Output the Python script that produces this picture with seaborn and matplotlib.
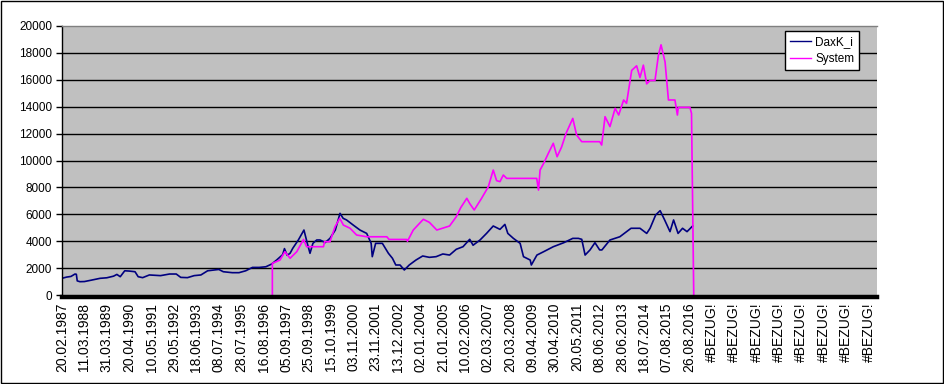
import numpy as np
import pandas as pd
import matplotlib
matplotlib.use("Agg")
import matplotlib.pyplot as plt
import seaborn as sns
from matplotlib.patches import Rectangle

# Category labels on the x axis (Excel shows one label every ~260 rows)
date_labels = [
    "20.02.1987", "11.03.1988", "31.03.1989", "20.04.1990", "10.05.1991",
    "29.05.1992", "18.06.1993", "08.07.1994", "28.07.1995", "16.08.1996",
    "05.09.1997", "25.09.1998", "15.10.1999", "03.11.2000", "23.11.2001",
    "13.12.2002", "02.01.2004", "21.01.2005", "10.02.2006", "02.03.2007",
    "20.03.2008", "09.04.2009", "30.04.2010", "20.05.2011", "08.06.2012",
    "28.06.2013", "18.07.2014", "07.08.2015", "26.08.2016",
]
broken_labels = ["#BEZUG!"] * 8
tick_labels = date_labels + broken_labels

# DaxK_i: position in label units, value
dax_t = [
    0.0, 0.2, 0.4, 0.58, 0.64, 0.68, 0.8, 1.0, 1.3, 1.7, 2.0, 2.3, 2.45, 2.6,
    2.8, 3.0, 3.26, 3.4, 3.6, 3.9, 4.4, 4.8, 5.1, 5.3, 5.6, 5.9, 6.2, 6.5,
    6.8, 7.0, 7.2, 7.6, 7.9, 8.2, 8.5, 8.8, 9.1, 9.36, 9.58, 9.85, 9.93,
    10.05, 10.18, 10.3, 10.55, 10.8, 10.95, 11.07, 11.2, 11.37, 11.52, 11.75,
    11.96, 12.2, 12.41, 12.55, 12.7, 13.0, 13.3, 13.6, 13.8, 13.85, 14.0,
    14.3, 14.57, 14.75, 14.9, 15.09, 15.28, 15.5, 15.8, 16.1, 16.4, 16.7,
    17.0, 17.3, 17.6, 17.9, 18.2, 18.35, 18.66, 18.95, 19.25, 19.55, 19.77,
    19.9, 20.15, 20.45, 20.6, 20.9, 20.95, 21.2, 21.5, 21.93, 22.4, 22.8,
    23.05, 23.2, 23.35, 23.57, 23.79, 24.0, 24.1, 24.46, 24.9, 25.4, 25.8,
    26.1, 26.25, 26.5, 26.7, 26.9, 27.14, 27.3, 27.5, 27.7, 27.9, 28.15,
]
dax_v = [
    1240, 1330, 1380, 1560, 1540, 1050, 990, 1000, 1100, 1240, 1280, 1400,
    1530, 1360, 1800, 1780, 1730, 1360, 1290, 1490, 1440, 1560, 1560, 1310,
    1290, 1440, 1490, 1800, 1860, 1900, 1730, 1660, 1660, 1800, 2050, 2050,
    2100, 2300, 2600, 3000, 3450, 2950, 3100, 3470, 4090, 4830, 3840, 3100,
    3840, 4090, 4090, 3900, 4210, 4830, 6070, 5700, 5580, 5200, 4830, 4580,
    3840, 2850, 3840, 3840, 3100, 2730, 2230, 2230, 1860, 2230, 2600, 2900,
    2800, 2850, 3050, 2970, 3400, 3590, 4140, 3700, 4090, 4580, 5130, 4880,
    5250, 4580, 4210, 3840, 2850, 2600, 2230, 2970, 3220, 3590, 3890, 4210,
    4210, 4140, 2970, 3350, 3890, 3350, 3350, 4090, 4330, 4960, 4960, 4580,
    4960, 5950, 6270, 5580, 4710, 5580, 4580, 4960, 4710, 5130,
]

# System: position in label units, value
sys_t = [
    9.39, 9.39, 9.73, 9.95, 10.18, 10.48, 10.78, 10.92, 11.67, 11.72, 11.96,
    12.19, 12.4, 12.56, 12.86, 13.15, 13.6, 14.5, 14.6, 15.39, 15.42, 15.68,
    16.13, 16.4, 16.73, 17.3, 17.6, 17.8, 18.07, 18.2, 18.4, 18.73, 19.03,
    19.25, 19.4, 19.55, 19.7, 19.85, 21.19, 21.27, 21.34, 21.5, 21.7, 21.93,
    22.1, 22.3, 22.5, 22.8, 22.97, 23.2, 24.0, 24.09, 24.24, 24.46, 24.69,
    24.85, 25.07, 25.2, 25.43, 25.65, 25.8, 25.95, 26.1, 26.25, 26.47, 26.62,
    26.74, 26.92, 27.07, 27.36, 27.47, 27.51, 28.03, 28.1, 28.15, 28.2,
]
sys_v = [
    0, 2350, 2600, 3220, 2730, 3220, 4130, 3590, 3590, 3960, 3960, 5080, 5700,
    5200, 4960, 4460, 4330, 4330, 4130, 4130, 4000, 4830, 5630, 5400, 4830,
    5130, 5820, 6500, 7190, 6800, 6320, 7190, 8050, 9290, 8500, 8430, 8920,
    8670, 8670, 7800, 9290, 9790, 10500, 11280, 10280, 11000, 12020, 13130,
    11900, 11400, 11400, 11150, 13260, 12520, 13880, 13380, 14500, 14250,
    16700, 17040, 16170, 17090, 15700, 15950, 15950, 17800, 18600, 17320,
    14500, 14500, 13380, 13950, 13950, 13500, 6800, 0,
]

df = pd.concat([
    pd.DataFrame({"t": dax_t, "value": dax_v, "series": "DaxK_i"}),
    pd.DataFrame({"t": sys_t, "value": sys_v, "series": "System"}),
], ignore_index=True)

plt.rcParams["font.family"] = ["Liberation Sans", "DejaVu Sans"]

fig = plt.figure(figsize=(9.45, 3.84), dpi=100)
fig.patch.set_facecolor("white")
ax = fig.add_axes([62 / 945, 1 - 295 / 384, (877 - 62) / 945, (295 - 26) / 384])
ax.set_facecolor("#C0C0C0")

colors = {"DaxK_i": "#000080", "System": "#FF00FF"}
sns.lineplot(
    data=df, x="t", y="value", hue="series", palette=colors,
    estimator=None, sort=False, linewidth=1.2, ax=ax, legend=False,
)

# black horizontal gridlines
for yv in range(2000, 20000, 2000):
    ax.axhline(yv, color="black", linewidth=1.0, zorder=0.5)

ax.set_xlim(0, 36.38)
ax.set_ylim(0, 20000)
ax.set_yticks(range(0, 20001, 2000))
ax.set_yticklabels([str(v) for v in range(0, 20001, 2000)], fontsize=8.5)
ax.set_xticks(range(len(tick_labels)))
ax.set_xticklabels(tick_labels, fontsize=8.2)
ax.tick_params(axis="y", length=4, width=1, pad=3, color="black")
ax.tick_params(axis="x", length=0, pad=4, labelrotation=90)
ax.set_xlabel("")
ax.set_ylabel("")

ax.spines["left"].set_color("black")
ax.spines["left"].set_linewidth(1)
ax.spines["bottom"].set_color("black")
ax.spines["bottom"].set_linewidth(3.2)
ax.spines["bottom"].set_position(("outward", 1.5))
ax.spines["top"].set_color("#808080")
ax.spines["top"].set_linewidth(1)
ax.spines["right"].set_visible(False)

# legend in Excel style
handles = [plt.Line2D([], [], color=colors[s], linewidth=1.0) for s in colors]
leg = ax.legend(
    handles, list(colors), loc="upper right",
    bbox_to_anchor=(859 / 945, 1 - 31 / 384), bbox_transform=fig.transFigure,
    borderaxespad=0, fancybox=False, framealpha=1, edgecolor="black",
    fontsize=8.5, handlelength=1.8, handletextpad=0.35, borderpad=0.4,
    labelspacing=0.45,
)
leg.get_frame().set_linewidth(1)

# outer chart border
fig.patches.append(Rectangle((0.001, 0.002), 0.997, 0.996, transform=fig.transFigure,
                             fill=False, edgecolor="black", linewidth=1))

fig.savefig("out.png", dpi=100)
